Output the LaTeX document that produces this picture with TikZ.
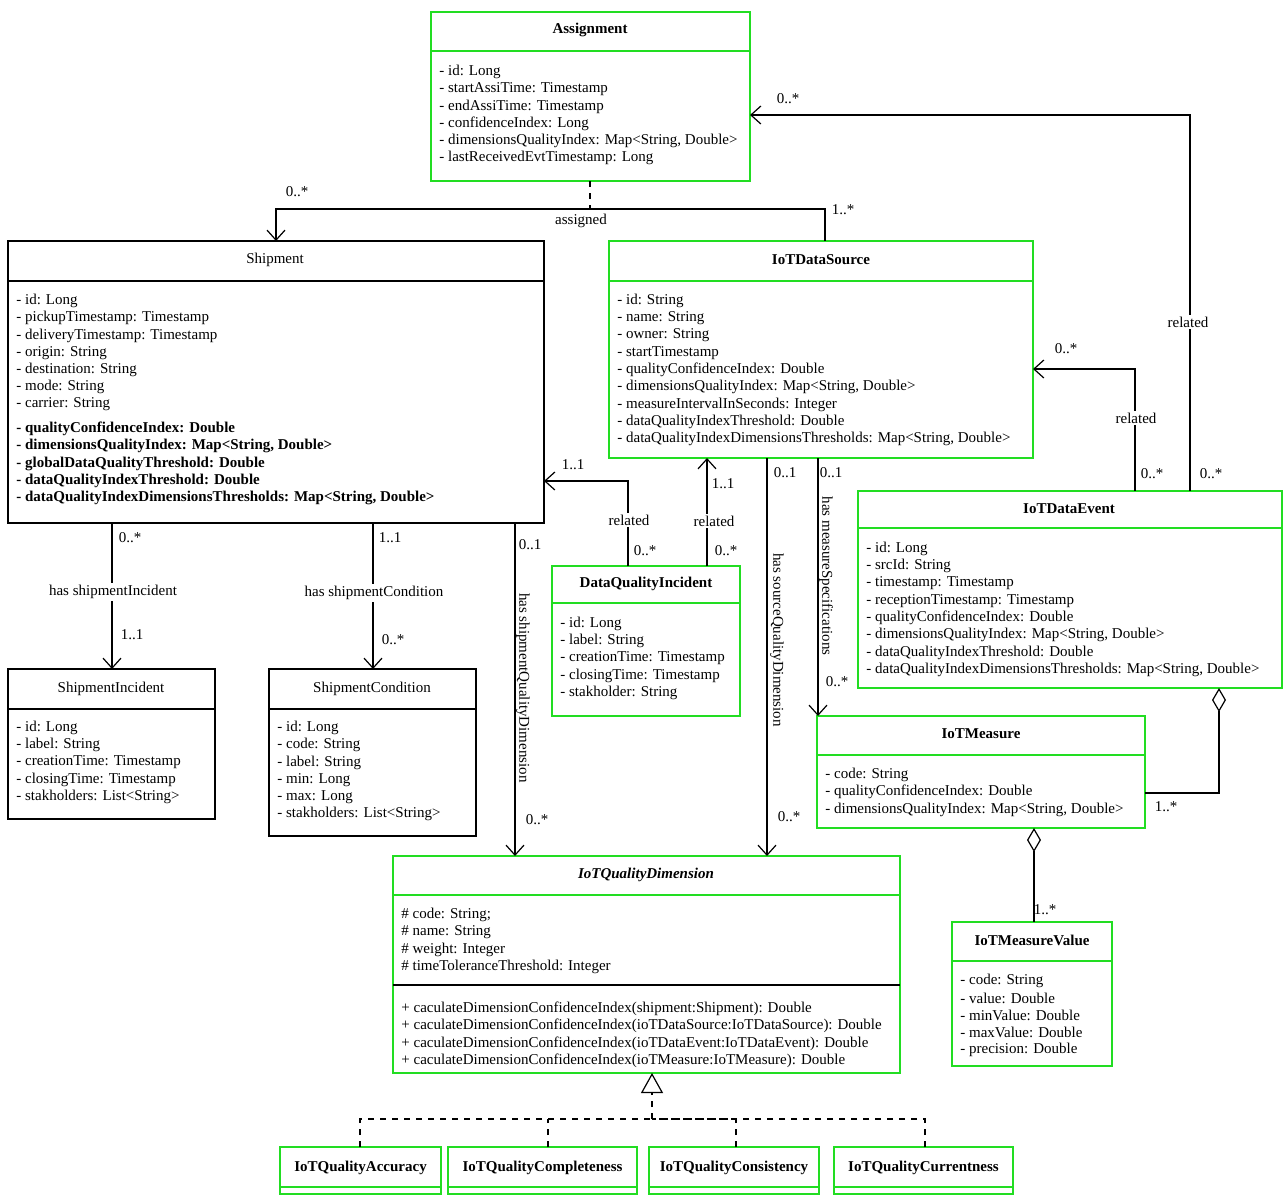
\documentclass[tikz,border=0pt]{standalone}
\usepackage{fontspec}
\setmainfont{Liberation Serif}
\usetikzlibrary{arrows.meta}
\definecolor{gr}{HTML}{22DD22}
\newcommand\umlbox[6]{%
 \pgfmathsetmacro\bw{(#4-#2)*0.5}\pgfmathsetmacro\bh{(#5-#3)*0.5}%
 \node[draw=#6,line width=0.75pt,inner sep=0,outer sep=0,anchor=north west,minimum width=\bw pt,minimum height=\bh pt] (#1) at (#2,#3) {};}
\newcommand\divl[4]{\draw[#4,line width=0.75pt] (#1,#3) -- (#2,#3);}
\newcommand\lines[3]{\foreach \t [count=\i from 0] in {#3} {\node[anchor=west,inner sep=0] at (#1,#2+17.25*\i) {\t};}}
\tikzset{x=0.5pt,y=-0.5pt,every node/.style={font=\fontsize{7.5}{8}\selectfont},
 con/.style={line width=0.6pt},
 arr/.style={con,-{Straight Barb[length=5pt,width=9pt,line width=0.6pt]}},
 lbl/.style={inner sep=0}}
\begin{document}
\begin{tikzpicture}
\useasboundingbox (0,0) rectangle (1287,1201);
% Assignment
\umlbox{asg}{431}{12}{750}{181}{gr}\divl{431}{750}{51}{gr}
\node[font=\fontsize{7.5}{8}\selectfont\bfseries] at (590,30) {Assignment};
\lines{439}{72}{{- id: Long},{- startAssiTime: Timestamp},{- endAssiTime: Timestamp},{- confidenceIndex: Long},{- dimensionsQualityIndex: Map<String, Double>},{- lastReceivedEvtTimestamp: Long}}
% Shipment
\umlbox{shp}{8}{241}{544}{523}{black}\divl{8}{544}{281}{black}
\node at (275,260) {Shipment};
\lines{16}{301}{{- id: Long},{- pickupTimestamp: Timestamp},{- deliveryTimestamp: Timestamp},{- origin: String},{- destination: String},{- mode: String},{- carrier: String}}
\begin{scope}[every node/.style={font=\fontsize{7.5}{8}\selectfont\bfseries}]
\lines{16}{429}{{- qualityConfidenceIndex: Double},{- dimensionsQualityIndex: Map<String, Double>},{- globalDataQualityThreshold: Double},{- dataQualityIndexThreshold: Double},{- dataQualityIndexDimensionsThresholds: Map<String, Double>}}
\end{scope}
% IoTDataSource
\umlbox{ds}{609}{241}{1033}{458}{gr}\divl{609}{1033}{281}{gr}
\node[font=\fontsize{7.5}{8}\selectfont\bfseries] at (821,260) {IoTDataSource};
\lines{617}{301}{{- id: String},{- name: String},{- owner: String},{- startTimestamp},{- qualityConfidenceIndex: Double},{- dimensionsQualityIndex: Map<String, Double>},{- measureIntervalInSeconds: Integer},{- dataQualityIndexThreshold: Double},{- dataQualityIndexDimensionsThresholds: Map<String, Double>}}
% IoTDataEvent
\umlbox{ev}{858}{491}{1282}{688}{gr}\divl{858}{1282}{528}{gr}
\node[font=\fontsize{7.5}{8}\selectfont\bfseries] at (1069,509) {IoTDataEvent};
\lines{866}{549}{{- id: Long},{- srcId: String},{- timestamp: Timestamp},{- receptionTimestamp: Timestamp},{- qualityConfidenceIndex: Double},{- dimensionsQualityIndex: Map<String, Double>},{- dataQualityIndexThreshold: Double},{- dataQualityIndexDimensionsThresholds: Map<String, Double>}}
% DataQualityIncident
\umlbox{dqi}{552}{566}{740}{716}{gr}\divl{552}{740}{603}{gr}
\node[font=\fontsize{7.5}{8}\selectfont\bfseries] at (646,584) {DataQualityIncident};
\lines{560}{624}{{- id: Long},{- label: String},{- creationTime: Timestamp},{- closingTime: Timestamp},{- stakholder: String}}
% ShipmentIncident
\umlbox{si}{8}{669}{215}{819}{black}\divl{8}{215}{709}{black}
\node at (111,689) {ShipmentIncident};
\lines{16}{728}{{- id: Long},{- label: String},{- creationTime: Timestamp},{- closingTime: Timestamp},{- stakholders: List<String>}}
% ShipmentCondition
\umlbox{sc}{269}{669}{476}{836}{black}\divl{269}{476}{709}{black}
\node at (372,689) {ShipmentCondition};
\lines{277}{728}{{- id: Long},{- code: String},{- label: String},{- min: Long},{- max: Long},{- stakholders: List<String>}}
% IoTMeasure
\umlbox{ms}{817}{716}{1145}{828}{gr}\divl{817}{1145}{755}{gr}
\node[font=\fontsize{7.5}{8}\selectfont\bfseries] at (981,734) {IoTMeasure};
\lines{825}{775}{{- code: String},{- qualityConfidenceIndex: Double},{- dimensionsQualityIndex: Map<String, Double>}}
% IoTMeasureValue
\umlbox{mv}{952}{922}{1112}{1066}{gr}\divl{952}{1112}{961}{gr}
\node[font=\fontsize{7.5}{8}\selectfont\bfseries] at (1032,940) {IoTMeasureValue};
\lines{960}{981}{{- code: String},{- value: Double},{- minValue: Double},{- maxValue: Double},{- precision: Double}}
% IoTQualityDimension
\umlbox{qd}{393}{856}{900}{1073}{gr}\divl{393}{900}{895}{gr}\divl{393}{900}{985}{black}
\node[font=\fontsize{7.5}{8}\selectfont\bfseries\itshape] at (646,875) {IoTQualityDimension};
\lines{401}{915}{{\# code: String;},{\# name: String},{\# weight: Integer},{\# timeToleranceThreshold: Integer}}
\lines{401}{1009}{{+ caculateDimensionConfidenceIndex(shipment:Shipment): Double},{+ caculateDimensionConfidenceIndex(ioTDataSource:IoTDataSource): Double},{+ caculateDimensionConfidenceIndex(ioTDataEvent:IoTDataEvent): Double},{+ caculateDimensionConfidenceIndex(ioTMeasure:IoTMeasure): Double}}
% subclasses
\foreach \nm/\a/\b/\t in {qa/280/441/IoTQualityAccuracy,qc/448/637/IoTQualityCompleteness,qs/649/819/IoTQualityConsistency,qr/834/1013/IoTQualityCurrentness}{
 \umlbox{\nm}{\a}{1147}{\b}{1194}{gr}\divl{\a}{\b}{1187}{gr}
 \node[font=\fontsize{7.5}{8}\selectfont\bfseries] at ({(\a+\b)/2},1168) {\t};}
\draw[con,dashed,-{Triangle[open,length=10pt,width=11pt,line width=0.6pt]}] (652,1119) -- (qd.south -| 652,0);
\draw[con,dashed] (qa.north -| 360,0) |- (652,1119) (qs.north -| 736,0) |- (652,1119) (qr.north -| 925,0) |- (652,1119) (qc.north -| 548,0) -- (548,1119);
% assigned
\draw[con,dashed] (asg.south -| 590,0) -- (590,209);
\draw[arr] (ds.north -| 825,0) |- (276,209) -- (shp.north -| 276,0);
\node[lbl] at (297,192) {0..*};\node[lbl] at (581,221) {assigned};\node[lbl] at (843,210) {1..*};
% related event -> assignment
\draw[arr] (ev.north -| 1190,0) |- (asg.east |- 0,115);
\node[lbl] at (788,99) {0..*};\node[lbl,fill=white,inner sep=1pt] at (1188,322) {related};\node[lbl] at (1211,474) {0..*};
% event -> datasource
\draw[arr] (ev.north -| 1135,0) |- (ds.east |- 0,369);
\node[lbl] at (1066,349) {0..*};\node[lbl,fill=white,inner sep=1pt] at (1136,418) {related};\node[lbl] at (1152,474) {0..*};
% dqi -> shipment
\draw[arr] (dqi.north -| 628,0) |- (shp.east |- 0,481);
\node[lbl] at (573,465) {1..1};\node[lbl,fill=white,inner sep=1pt] at (629,520) {related};\node[lbl] at (645,551) {0..*};
% dqi -> ds
\draw[arr] (dqi.north -| 707,0) -- (ds.south -| 707,0);
\node[lbl] at (723,484) {1..1};\node[lbl,fill=white,inner sep=1pt] at (714,521) {related};\node[lbl] at (726,551) {0..*};
% shipment -> incident
\draw[arr] (shp.south -| 112,0) -- (si.north -| 112,0);
\node[lbl] at (130,538) {0..*};\node[lbl,fill=white,inner sep=1pt] at (113,592) {has shipmentIncident};\node[lbl] at (132,635) {1..1};
\draw[arr] (shp.south -| 373,0) -- (sc.north -| 373,0);
\node[lbl] at (390,538) {1..1};\node[lbl,fill=white,inner sep=1pt] at (374,593) {has shipmentCondition};\node[lbl] at (393,640) {0..*};
% quality dimension
\draw[arr] (shp.south -| 515,0) -- (qd.north -| 515,0);
\node[lbl] at (530,545) {0..1};\node[lbl,rotate=-90] at (523,688) {has shipmentQualityDimension};\node[lbl] at (537,820) {0..*};
\draw[arr] (ds.south -| 767,0) -- (qd.north -| 767,0);
\node[lbl] at (785,473) {0..1};\node[lbl,rotate=-90] at (777,640) {has sourceQualityDimension};\node[lbl] at (789,817) {0..*};
\draw[arr] (ds.south -| 818,0) -- (ms.north -| 818,0);
\node[lbl] at (831,473) {0..1};\node[lbl,rotate=-90] at (826,576) {has measureSpecifications};\node[lbl] at (837,682) {0..*};
% aggregation
\draw[con,{Diamond[open,length=12pt,width=7pt,line width=0.6pt]}-] (ev.south -| 1219,0) |- (ms.east |- 0,793);
\node[lbl] at (1166,807) {1..*};
\draw[con,{Diamond[open,length=12pt,width=7pt,line width=0.6pt]}-] (ms.south -| 1034,0) -- (mv.north -| 1034,0);
\node[lbl] at (1045,910) {1..*};
\end{tikzpicture}
\end{document}
